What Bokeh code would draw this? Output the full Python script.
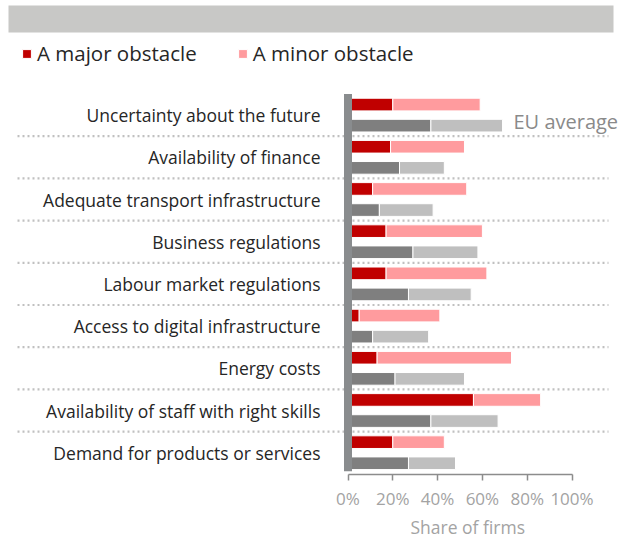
from bokeh.plotting import figure
from bokeh.models import (Range1d, FixedTicker, PrintfTickFormatter, ColumnDataSource,
                          Legend, LegendItem, Title)
from bokeh.core.properties import value
from bokeh.embed import file_html
from bokeh.resources import INLINE

CATEGORIES = [
    "Uncertainty about the future",
    "Availability of finance",
    "Adequate transport infrastructure",
    "Business regulations",
    "Labour market regulations",
    "Access to digital infrastructure",
    "Energy costs",
    "Availability of staff with right skills",
    "Demand for products or services",
]
COUNTRY_MAJOR = [20, 19, 11, 17, 17, 5, 13, 56, 20]
COUNTRY_MINOR = [39, 33, 42, 43, 45, 36, 60, 30, 23]
EU_MAJOR = [37, 23, 14, 29, 27, 11, 21, 37, 27]
EU_MINOR = [32, 20, 24, 29, 28, 25, 31, 30, 21]
TICKS = [0, 20, 40, 60, 80, 100]
SERIES_NAMES = ["A major obstacle", "A minor obstacle"]
X_LABEL = "Share of firms"
EU_LABEL = "EU average"

FONT = "Open Sans"
W = 624
FRAME_H = 474
PX_X = 2.24            # px per percent
ZERO_X = 347.5         # canvas px of 0%
PX_Y = 42.2            # px per category
TOP_Y = 93.5           # canvas px of first category top

x0 = -ZERO_X / PX_X
x1 = (W - ZERO_X) / PX_X
y_top = -TOP_Y / PX_Y
y_bot = y_top + FRAME_H / PX_Y

def px_x(px):
    return (px - ZERO_X) / PX_X

def px_y(py):
    return y_top + py / PX_Y

p = figure(frame_width=W, frame_height=FRAME_H, output_backend="svg",
           toolbar_location=None,
           x_range=Range1d(x0, x1), y_range=Range1d(y_bot, y_top),
           min_border_left=0, min_border_right=0, min_border_top=0,
           min_border_bottom=0)
p.yaxis.visible = False
p.xgrid.visible = False
p.ygrid.visible = False
p.outline_line_color = None
p.background_fill_color = "white"

n = len(CATEGORIES)
idx = list(range(n))
src = ColumnDataSource(dict(
    cat=CATEGORIES,
    yc=[i + 0.25 for i in idx],
    ye=[i + 0.75 for i in idx],
    ylab=[i + 0.5 for i in idx],
    cmaj=COUNTRY_MAJOR,
    ctot=[a + b for a, b in zip(COUNTRY_MAJOR, COUNTRY_MINOR)],
    emaj=EU_MAJOR,
    etot=[a + b for a, b in zip(EU_MAJOR, EU_MINOR)],
    zero=[0] * n,
))

BH = 0.3
r_maj = p.hbar(y="yc", left="zero", right="cmaj", height=BH, source=src,
               fill_color="#c00000", line_color="white", line_width=1)
r_min = p.hbar(y="yc", left="cmaj", right="ctot", height=BH, source=src,
               fill_color="#ff9b9e", line_color="white", line_width=1)
p.hbar(y="ye", left="zero", right="emaj", height=BH, source=src,
       fill_color="#7f7f7f", line_color="white", line_width=1)
p.hbar(y="ye", left="emaj", right="etot", height=BH, source=src,
       fill_color="#bfbfbf", line_color="white", line_width=1)

# dotted separators between categories
sep_y = [i + 1 for i in range(n - 1)]
p.segment(x0=[px_x(17)] * len(sep_y), x1=[px_x(608)] * len(sep_y), y0=sep_y, y1=sep_y,
          line_color="#c0c0c0", line_width=2.2, line_dash="2 3")

# thick vertical axis bar
p.segment(x0=[0], x1=[0], y0=[0], y1=[n - 0.06], line_color="#898c8e", line_width=8,
          line_cap="butt")

# category labels
p.text(x=px_x(320), y="ylab", text="cat", source=src,
       text_align="right", text_baseline="middle", text_font=value(FONT),
       text_font_size="17.5px", text_color="#262626")

# EU average label
p.text(x=[px_x(513)], y=[px_y(121)], text=[EU_LABEL],
       text_align="left", text_baseline="middle", text_font=value(FONT),
       text_font_size="20px", text_color="#8a8a8a")

# top banner
p.quad(left=[px_x(8)], right=[px_x(613)], top=[px_y(5)],
       bottom=[px_y(32)], fill_color="#c8c8c6", line_color=None)

legend = Legend(items=[LegendItem(label=SERIES_NAMES[0], renderers=[r_maj]),
                       LegendItem(label=SERIES_NAMES[1], renderers=[r_min])],
                orientation="horizontal", location=(21, FRAME_H - 67),
                border_line_color=None, background_fill_alpha=0,
                glyph_width=11, glyph_height=11, label_standoff=5, spacing=40,
                label_text_font=FONT, label_text_font_size="20.5px",
                label_text_color="#262626", padding=0, margin=0)
p.add_layout(legend, "center")

ax = p.xaxis[0]
ax.ticker = FixedTicker(ticks=TICKS)
ax.formatter = PrintfTickFormatter(format="%d%%")
ax.bounds = (0, 100)
ax.axis_line_color = "#8c8c8c"
ax.axis_line_width = 1.5
ax.major_tick_line_color = "#8c8c8c"
ax.major_tick_line_width = 1.5
ax.major_tick_out = 6
ax.major_tick_in = 0
ax.minor_tick_line_color = None
ax.major_label_text_font = FONT
ax.major_label_text_font_size = "17px"
ax.major_label_text_color = "#a3a3a3"
ax.major_label_standoff = 6

xtitle = Title(text=X_LABEL, align="left", offset=410, standoff=0,
               text_font=FONT, text_font_style="normal", text_font_size="17.5px",
               text_color="#a3a3a3")
p.add_layout(xtitle, "below")

open("out.html", "w").write(file_html(p, INLINE))
